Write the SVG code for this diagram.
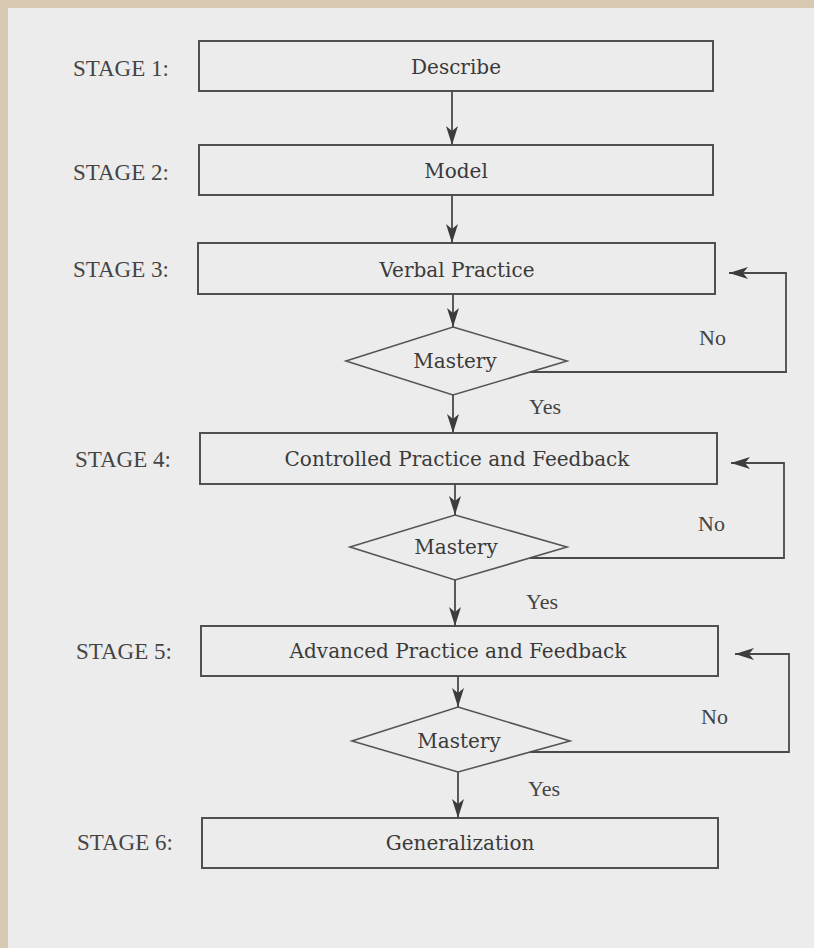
<svg xmlns="http://www.w3.org/2000/svg" width="814" height="948" viewBox="0 0 814 948">
<style>
.box{fill:none;stroke:#505050;stroke-width:2}
.dia{fill:none;stroke:#555;stroke-width:1.6}
.lbl{font-family:"Liberation Serif",serif;font-size:23px;fill:#444}
.txt{font-family:"DejaVu Serif",serif;font-size:20px;fill:#3a3a3a;text-anchor:middle}
.yn{font-family:"Liberation Serif",serif;font-size:22px;fill:#444}
.ln{fill:none;stroke:#4a4a4a;stroke-width:1.8}
</style>
<defs>
<marker id="ah" markerUnits="userSpaceOnUse" markerWidth="20" markerHeight="12" refX="19" refY="6" orient="auto">
<path d="M0,0 L19,6 L0,12 L5,6 z" fill="#3c3c3c"/>
</marker>
</defs>
<rect x="0" y="0" width="814" height="948" fill="#d8cab2"/>
<rect x="8" y="8" width="806" height="940" fill="#ececec"/>

<g id="stage1"><text class="lbl" x="73" y="76">STAGE 1:</text><rect class="box" x="199" y="41" width="514" height="50"/><text class="txt" x="456" y="74">Describe</text></g>
<g id="stage2"><text class="lbl" x="73" y="180">STAGE 2:</text><rect class="box" x="199" y="145" width="514" height="50"/><text class="txt" x="456" y="178">Model</text></g>
<g id="stage3"><text class="lbl" x="73" y="277">STAGE 3:</text><rect class="box" x="198" y="243" width="517" height="51"/><text class="txt" x="457" y="277">Verbal Practice</text></g>
<g id="mastery1"><polygon class="dia" points="453,327 567,361 453,395 346,361"/><text class="txt" x="455" y="368">Mastery</text></g>
<g id="stage4"><text class="lbl" x="75" y="467">STAGE 4:</text><rect class="box" x="200" y="433" width="517" height="51"/><text class="txt" x="457" y="466">Controlled Practice and Feedback</text></g>
<g id="mastery2"><polygon class="dia" points="455,515 567,547 455,580 350,547"/><text class="txt" x="456" y="554">Mastery</text></g>
<g id="stage5"><text class="lbl" x="76" y="659">STAGE 5:</text><rect class="box" x="201" y="626" width="517" height="50"/><text class="txt" x="458" y="658">Advanced Practice and Feedback</text></g>
<g id="mastery3"><polygon class="dia" points="458,707 570,741 458,772 352,741"/><text class="txt" x="459" y="748">Mastery</text></g>
<g id="stage6"><text class="lbl" x="77" y="850">STAGE 6:</text><rect class="box" x="202" y="818" width="516" height="50"/><text class="txt" x="460" y="850">Generalization</text></g>

<g id="connectors">
<line class="ln" x1="452" y1="91" x2="452" y2="145" marker-end="url(#ah)"/>
<line class="ln" x1="452" y1="195" x2="452" y2="243" marker-end="url(#ah)"/>
<line class="ln" x1="453" y1="294" x2="453" y2="327" marker-end="url(#ah)"/>
<line class="ln" x1="453" y1="395" x2="453" y2="433" marker-end="url(#ah)"/>
<polyline class="ln" points="530,372 786,372 786,273 729,273" marker-end="url(#ah)"/>
<line class="ln" x1="455" y1="484" x2="455" y2="515" marker-end="url(#ah)"/>
<line class="ln" x1="455" y1="580" x2="455" y2="626" marker-end="url(#ah)"/>
<polyline class="ln" points="530,558 784,558 784,463 731,463" marker-end="url(#ah)"/>
<line class="ln" x1="458" y1="676" x2="458" y2="707" marker-end="url(#ah)"/>
<line class="ln" x1="458" y1="772" x2="458" y2="818" marker-end="url(#ah)"/>
<polyline class="ln" points="530,752 789,752 789,654 735,654" marker-end="url(#ah)"/>
<text class="yn" x="699" y="345">No</text>
<text class="yn" x="529" y="414">Yes</text>
<text class="yn" x="698" y="531">No</text>
<text class="yn" x="526" y="609">Yes</text>
<text class="yn" x="701" y="724">No</text>
<text class="yn" x="528" y="796">Yes</text>
</g>
</svg>
